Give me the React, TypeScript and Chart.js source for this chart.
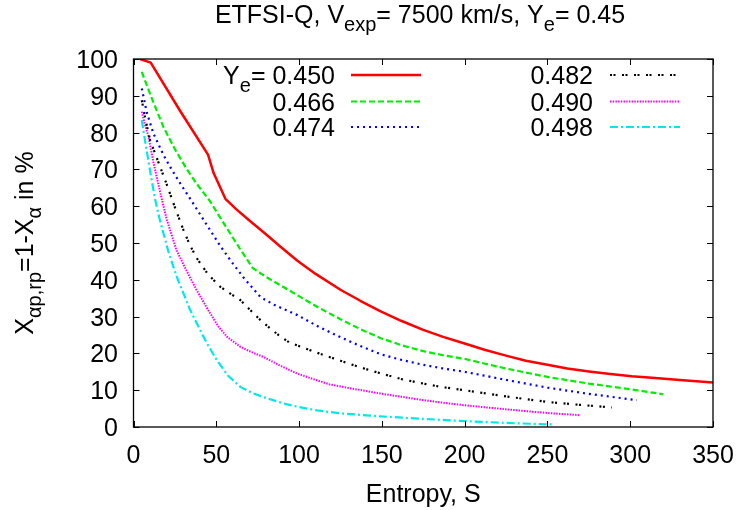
import React, { useEffect, useRef } from "react";
import { Chart, registerables } from "chart.js";

Chart.register(...registerables);

// ---------- data ----------
const xTicks = [0, 50, 100, 150, 200, 250, 300, 350];
const yTicks = [0, 10, 20, 30, 40, 50, 60, 70, 80, 90, 100];
const yeLabels = ["0.450", "0.466", "0.474", "0.482", "0.490", "0.498"];

const ye450: [number, number][] = [
  [4, 100], [10.4, 99], [28, 86], [45, 74], [48.4, 69], [55.5, 62], [62, 59.2], [70, 56.1], [80, 52.4],
  [88.8, 49], [99, 45.2], [110, 41.6], [125, 37.3], [137, 34.3], [149, 31.5], [162, 28.8], [175, 26.4],
  [187, 24.5], [200, 22.7], [212, 21], [225, 19.4], [237, 18], [250, 16.9], [262, 15.9], [275, 15.1],
  [288, 14.4], [301, 13.8], [315, 13.3], [330, 12.8], [350, 12.1],
];
const ye466: [number, number][] = [
  [5, 96.5], [10, 90.5], [18, 81.6], [25, 75.5], [32, 70.2], [38, 66.2], [46, 61.5], [55, 55], [64.5, 48.3],
  [72, 43.2], [80, 40.8], [90, 38.2], [99, 35.8], [112, 32.4], [125, 29.3], [137, 26.6], [149, 24.2],
  [162, 22.2], [175, 20.6], [187, 19.5], [200, 18.5], [225, 15.9], [250, 13.6], [275, 11.8], [301, 10.2],
  [320, 8.9],
];
const ye474: [number, number][] = [
  [5, 92], [8, 85.5], [12, 79.8], [18, 74], [23, 70], [28.2, 66.2], [34.7, 61.7], [43, 55.8], [51.4, 49.9],
  [58.5, 45.3], [67, 40.3], [76.7, 35.3], [85, 33.2], [99, 30.4], [112, 27.2], [125, 24.4], [137, 22],
  [149, 19.8], [162, 18.2], [175, 16.9], [187, 15.9], [200, 15], [225, 12.8], [250, 10.7], [275, 9],
  [304, 7.3],
];
const ye482: [number, number][] = [
  [5, 88.8], [7.5, 83], [10, 78], [15, 72], [20, 66], [25, 59.7], [30.2, 53.5], [34, 49.5], [38.3, 45.8],
  [45, 41.5], [52.4, 38.1], [58, 36.4], [64.5, 34.5], [70, 32], [75.6, 29.5], [82, 27], [87.8, 24.9],
  [94, 23], [101, 21.8], [112, 20], [125, 18], [137, 16.2], [149, 14.6], [162, 13], [175, 11.8],
  [187, 10.8], [200, 10], [225, 8.3], [250, 6.8], [270, 6], [289, 5.3],
];
const ye490: [number, number][] = [
  [5, 85.7], [7, 82], [9, 79], [12, 72], [16, 64], [20, 56.5], [26, 48], [32, 42.5], [38, 37.3],
  [44.4, 32.3], [51.4, 27.2], [56.5, 24.5], [64.5, 21.8], [72, 20.2], [78.7, 19], [88, 16.8], [99, 14.5],
  [110, 12.8], [119, 11.5], [135, 10.2], [149, 9.1], [162, 8.2], [175, 7.3], [187, 6.6], [200, 5.9],
  [225, 4.8], [250, 3.8], [270, 3.2],
];
const ye498: [number, number][] = [
  [5, 83.4], [8, 75], [11, 67], [13, 62], [15.5, 57], [18.1, 52.6], [21, 47.8], [24.1, 43.5], [27, 39.8],
  [30.2, 36.3], [34, 32], [38.3, 28.1], [44, 23], [50.4, 18.1], [57, 14], [64.5, 10.9], [72, 9.2],
  [80, 7.9], [90.8, 6.4], [100, 5.4], [111, 4.5], [125, 3.7], [149, 2.9], [175, 2.2], [200, 1.6],
  [225, 1.1], [253, 0.7],
];

const seriesData = [ye450, ye466, ye474, ye482, ye490, ye498];
const seriesColors = ["#ff0000", "#00ee00", "#0000ff", "#000000", "#ff00ff", "#00e8e8"];
const seriesDash: number[][] = [[], [6, 3], [2, 4], [2, 1.5, 2, 6.5], [1.5, 1.2], [8, 3, 2, 3]];
const seriesWidth = [2.5, 2.2, 2.2, 2.2, 2, 2.2];

// ---------- drawing helpers ----------
const FAMILY = '"Liberation Sans", Arial, Helvetica, sans-serif';
const FS = 25;
type Run = { t: string; sub?: boolean };

function drawRich(ctx: CanvasRenderingContext2D, runs: Run[], x: number, y: number, size: number, align: "left" | "center" | "right") {
  ctx.textAlign = "left";
  ctx.textBaseline = "alphabetic";
  const widths = runs.map((r) => {
    ctx.font = `${r.sub ? size * 0.8 : size}px ${FAMILY}`;
    return ctx.measureText(r.t).width;
  });
  const total = widths.reduce((a, b) => a + b, 0);
  let cx = align === "center" ? x - total / 2 : align === "right" ? x - total : x;
  runs.forEach((r, i) => {
    ctx.font = `${r.sub ? size * 0.8 : size}px ${FAMILY}`;
    ctx.fillText(r.t, cx, r.sub ? y + size * 0.3 : y);
    cx += widths[i];
  });
}

const overlay = {
  id: "overlay",
  afterDraw(chart: any) {
    const { ctx, chartArea: a, scales } = chart;
    const xs = scales.x;
    const ys = scales.y;
    ctx.save();
    ctx.fillStyle = "#000";
    ctx.strokeStyle = "#000";
    ctx.setLineDash([]);
    ctx.lineWidth = 1.3;
    ctx.strokeRect(a.left, a.top, a.right - a.left, a.bottom - a.top);
    const tl = 6;
    ctx.lineWidth = 1;
    ctx.beginPath();
    xTicks.forEach((v) => {
      const px = Math.round(xs.getPixelForValue(v)) + 0.5;
      ctx.moveTo(px, a.bottom); ctx.lineTo(px, a.bottom - tl);
      ctx.moveTo(px, a.top); ctx.lineTo(px, a.top + tl);
    });
    yTicks.forEach((v) => {
      const py = Math.round(ys.getPixelForValue(v)) + 0.5;
      ctx.moveTo(a.left, py); ctx.lineTo(a.left + tl, py);
      ctx.moveTo(a.right, py); ctx.lineTo(a.right - tl, py);
    });
    ctx.stroke();

    // tick labels
    ctx.font = `${FS}px ${FAMILY}`;
    ctx.textBaseline = "alphabetic";
    ctx.textAlign = "center";
    xTicks.forEach((v) => ctx.fillText(String(v), xs.getPixelForValue(v), 463));
    ctx.textAlign = "right";
    yTicks.forEach((v) => ctx.fillText(String(v), 118, ys.getPixelForValue(v) + 9));

    // axis titles
    drawRich(ctx, [{ t: "Entropy, S" }], (a.left + a.right) / 2, 502, FS, "center");
    ctx.save();
    ctx.translate(33, (a.top + a.bottom) / 2);
    ctx.rotate(-Math.PI / 2);
    drawRich(ctx, [{ t: "X" }, { t: "αp,rp", sub: true }, { t: "=1-X" }, { t: "α", sub: true }, { t: " in %" }], 0, 0, FS, "center");
    ctx.restore();

    // title
    drawRich(ctx, [{ t: "ETFSI-Q, V" }, { t: "exp", sub: true }, { t: "= 7500 km/s, Y" }, { t: "e", sub: true }, { t: "= 0.45" }], 420, 23, FS, "center");

    // legend
    const rows = [75, 101.5, 127];
    const cols = [
      { textRight: 335, x1: 351, x2: 421 },
      { textRight: 593, x1: 610, x2: 680 },
    ];
    yeLabels.forEach((lab, i) => {
      const col = cols[Math.floor(i / 3)];
      const ry = rows[i % 3];
      const runs: Run[] = i === 0 ? [{ t: "Y" }, { t: "e", sub: true }, { t: "= " + lab }] : [{ t: lab }];
      ctx.fillStyle = "#000";
      drawRich(ctx, runs, col.textRight, ry + 9, FS, "right");
      ctx.strokeStyle = seriesColors[i];
      ctx.lineWidth = seriesWidth[i];
      ctx.setLineDash(seriesDash[i]);
      ctx.beginPath();
      ctx.moveTo(col.x1, ry);
      ctx.lineTo(col.x2, ry);
      ctx.stroke();
    });
    ctx.restore();
  },
};

export default function App() {
  const ref = useRef<HTMLCanvasElement | null>(null);
  useEffect(() => {
    if (!ref.current) return;
    const chart = new Chart(ref.current, {
      type: "line",
      data: {
        datasets: seriesData.map((pts, i) => ({
          label: yeLabels[i],
          data: pts.map(([x, y]) => ({ x, y })),
          borderColor: seriesColors[i],
          backgroundColor: seriesColors[i],
          borderWidth: seriesWidth[i],
          borderDash: seriesDash[i],
          borderJoinStyle: "round" as const,
          pointRadius: 0,
          fill: false,
          tension: 0,
        })),
      },
      options: {
        responsive: false,
        animation: false,
        layout: { padding: { left: 133.5, top: 59, right: 25, bottom: 83 } },
        plugins: { legend: { display: false }, tooltip: { enabled: false }, title: { display: false } },
        scales: {
          x: { type: "linear", min: 0, max: 350, display: false },
          y: { type: "linear", min: 0, max: 100, display: false },
        },
      },
      plugins: [overlay],
    });
    return () => chart.destroy();
  }, []);
  return (
    <div style={{ position: "fixed", left: 0, top: 0, width: 738, height: 510, background: "#fff" }}>
      <canvas ref={ref} width={738} height={510} />
    </div>
  );
}
